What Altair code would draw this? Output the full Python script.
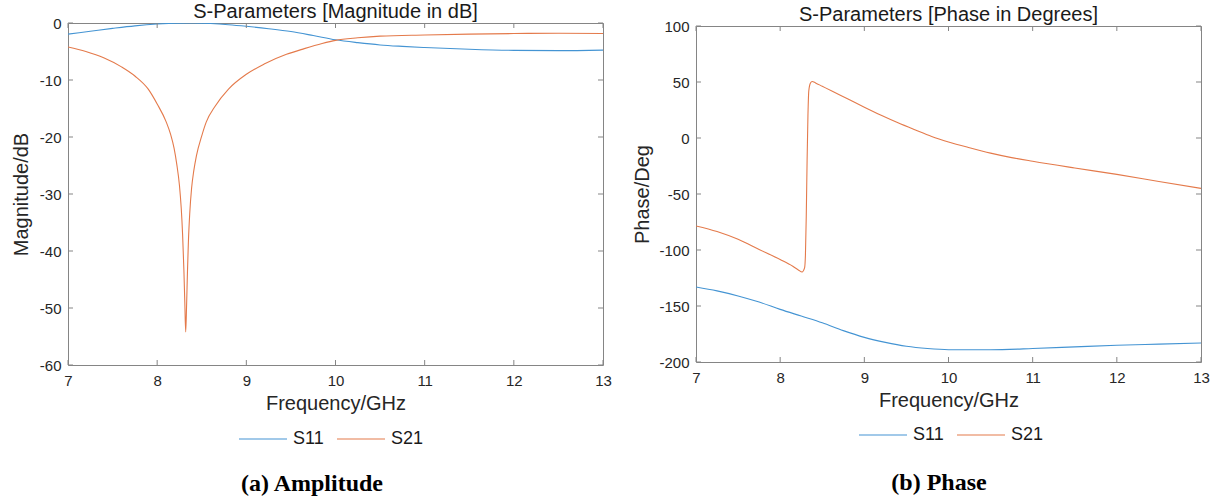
import altair as alt
import pandas as pd

# ---- Magnitude (dB) ----
s11_mag_freq = [7.0, 7.25, 7.5, 7.75, 8.0, 8.25, 8.4, 8.6, 8.8, 9.0, 9.25, 9.5, 9.75,
                10.0, 10.25, 10.5, 10.75, 11.0, 11.5, 12.0, 12.5, 13.0]
s11_mag_db = [-1.95, -1.45, -0.95, -0.5, -0.18, -0.02, 0.0, -0.1, -0.3, -0.58, -1.0, -1.5, -2.2,
              -2.95, -3.45, -3.85, -4.1, -4.3, -4.6, -4.8, -4.85, -4.75]

s21_mag_freq = [7.0, 7.2, 7.4, 7.6, 7.75, 7.9, 8.0, 8.1, 8.15, 8.19, 8.22, 8.25, 8.27, 8.285,
                8.30, 8.31, 8.32, 8.33, 8.34, 8.35, 8.365, 8.386, 8.41, 8.44, 8.5, 8.55, 8.65,
                8.8, 9.0, 9.2, 9.45, 9.65, 9.85, 10.0, 10.25, 10.5, 11.0, 11.5, 12.0, 12.5, 13.0]
s21_mag_db = [-4.2, -5.0, -6.1, -7.7, -9.3, -11.6, -14.2, -17.3, -19.5, -22.0, -24.8, -28.5, -32.5,
              -37.0, -43.5, -49.0, -54.2, -49.5, -43.5, -38.5, -33.5, -29.0, -26.0, -23.3, -19.8,
              -17.4, -14.6, -11.6, -9.0, -7.2, -5.5, -4.5, -3.6, -3.05, -2.6, -2.3, -2.1, -1.95,
              -1.85, -1.8, -1.85]

# ---- Phase (degrees) ----
s11_ph_freq = [7.0, 7.25, 7.5, 7.75, 8.0, 8.25, 8.5, 8.75, 9.0, 9.25, 9.5, 9.75, 10.0,
               10.5, 11.0, 11.5, 12.0, 12.5, 13.0]
s11_ph_deg = [-133, -136.5, -141, -146.5, -153, -159, -165, -172, -178, -182.5, -186, -188,
              -189, -189, -188, -186.5, -185, -184, -183]

s21_ph_freq = [7.0, 7.25, 7.5, 7.75, 8.0, 8.15, 8.22, 8.26, 8.29, 8.30, 8.31, 8.32, 8.33,
               8.34, 8.36, 8.38, 8.42, 8.5, 8.62, 8.8, 9.0, 9.2, 9.4, 9.6, 9.8, 10.0, 10.25,
               10.5, 10.75, 11.0, 11.5, 12.0, 12.5, 13.0]
s21_ph_deg = [-78.5, -83.5, -90.5, -99.5, -108.5, -114.5, -118, -119.6, -116, -105, -70, -20, 20,
              42, 49, 50.5, 49.2, 46.2, 41.7, 35.0, 27.5, 20.3, 13.6, 7.4, 1.4, -3.5, -8.7,
              -13.5, -17.5, -20.8, -26.8, -32.5, -38.8, -45]

series_names = ["S11", "S21"]
series_colors = ["#4494d3", "#e47a4b"]

mag_x_ticks = [7, 8, 9, 10, 11, 12, 13]
mag_y_ticks = [-60, -50, -40, -30, -20, -10, 0]
ph_x_ticks = [7, 8, 9, 10, 11, 12, 13]
ph_y_ticks = [-200, -150, -100, -50, 0, 50, 100]

FONT = "Liberation Sans"
TEXT = "#262626"
BOX = "#858585"


def long_frame(f1, v1, f2, v2):
    a = pd.DataFrame({"freq": f1, "val": v1, "series": series_names[0]})
    b = pd.DataFrame({"freq": f2, "val": v2, "series": series_names[1]})
    return pd.concat([a, b], ignore_index=True)


def panel(df, x_ticks, y_ticks, W, H, title, ytitle, leg_xy, caption, cap_xy, ytitle_pad):
    xdef = alt.X("freq:Q",
                 scale=alt.Scale(domain=[x_ticks[0], x_ticks[-1]], nice=False, zero=False),
                 axis=alt.Axis(values=x_ticks, title="Frequency/GHz", labelExpr="'' + datum.value",
                               labelFlush=False, labelPadding=8, titlePadding=5))
    ydef = alt.Y("val:Q",
                 scale=alt.Scale(domain=[y_ticks[0], y_ticks[-1]], nice=False, zero=False),
                 axis=alt.Axis(values=y_ticks, title=ytitle, labelExpr="'' + datum.value",
                               labelFlush=False, labelPadding=7, titlePadding=ytitle_pad))

    lines = alt.Chart(df).mark_line(strokeWidth=1.1, clip=True, interpolate="monotone").encode(
        x=xdef, y=ydef,
        color=alt.Color("series:N", title=None,
                        scale=alt.Scale(domain=series_names, range=series_colors),
                        legend=alt.Legend(orient="none", direction="horizontal",
                                          legendX=leg_xy[0], legendY=leg_xy[1])),
        order="freq:Q",
    )

    # inward tick marks on all four sides of the box
    xt = pd.DataFrame({"freq": x_ticks})
    yt = pd.DataFrame({"val": y_ticks})
    tick = dict(color=BOX, strokeWidth=1)
    xb = alt.Chart(xt).mark_rule(**tick).encode(x=xdef, y=alt.value(H), y2=alt.value(H - 5))
    xtp = alt.Chart(xt).mark_rule(**tick).encode(x=xdef, y=alt.value(0), y2=alt.value(5))
    yl = alt.Chart(yt).mark_rule(**tick).encode(y=ydef, x=alt.value(0), x2=alt.value(5))
    yr = alt.Chart(yt).mark_rule(**tick).encode(y=ydef, x=alt.value(W - 5), x2=alt.value(W))

    cap = alt.Chart(pd.DataFrame({"label": [caption]})).mark_text(
        font="Liberation Serif", fontWeight="bold", fontSize=24, color="#000000",
        align="center", baseline="middle",
    ).encode(x=alt.value(cap_xy[0]), y=alt.value(cap_xy[1]), text="label:N")

    return alt.layer(lines, xb, xtp, yl, yr, cap).properties(
        width=W, height=H,
        title=alt.TitleParams(title, font=FONT, fontSize=20, fontWeight="normal",
                              color="#1a1a1a", offset=-6),
    )


mag = panel(long_frame(s11_mag_freq, s11_mag_db, s21_mag_freq, s21_mag_db),
            mag_x_ticks, mag_y_ticks, 535, 342,
            "S-Parameters [Magnitude in dB]", "Magnitude/dB", (170, 391),
            "(a) Amplitude", (244, 461), 8)
ph = panel(long_frame(s11_ph_freq, s11_ph_deg, s21_ph_freq, s21_ph_deg),
           ph_x_ticks, ph_y_ticks, 505, 336,
           "S-Parameters [Phase in Degrees]", "Phase/Deg", (162, 384),
           "(b) Phase", (243, 457), 6)

chart = alt.hconcat(mag, ph, spacing=93, bounds="flush", center=True).resolve_scale(
    color="independent").resolve_legend(color="independent").properties(
    padding={"left": 10, "top": 1, "right": 5, "bottom": 0},
    background="white",
).configure_view(stroke=BOX, strokeWidth=1).configure_axis(
    grid=False, ticks=False, domain=False,
    labelFont=FONT, labelFontSize=15, labelColor=TEXT,
    titleFont=FONT, titleFontSize=20, titleFontWeight="normal", titleColor=TEXT,
).configure_legend(
    symbolType="stroke", symbolSize=2304, symbolStrokeWidth=1.1,
    labelFont=FONT, labelFontSize=18, labelColor="#1a1a1a",
    labelOffset=5, columnPadding=10, padding=0,
)

chart.save("out.html", embed_options={"renderer": "svg", "actions": False})
